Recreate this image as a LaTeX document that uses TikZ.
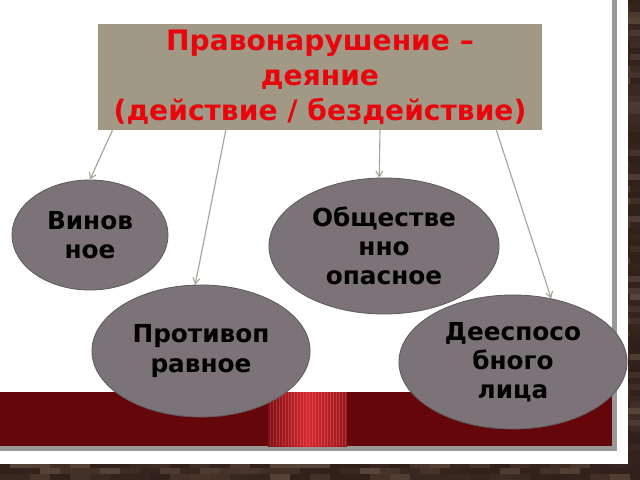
\documentclass[tikz,border=0pt]{standalone}
\usepackage{fontspec}
\setmainfont{DejaVu Sans}
\usetikzlibrary{shapes, arrows.meta}
\definecolor{boxkhaki}{RGB}{161,153,134}
\definecolor{titlered}{RGB}{232,6,12}
\definecolor{ovalgray}{RGB}{123,115,119}
\definecolor{ovaledge}{RGB}{96,90,94}
\definecolor{linkgray}{RGB}{168,163,148}
\definecolor{bandred}{RGB}{100,6,10}
\definecolor{stripered}{RGB}{216,40,46}
\definecolor{brickbrown}{RGB}{48,32,26}
\definecolor{bricktan}{RGB}{140,116,96}
\definecolor{shadowgray}{RGB}{152,152,152}

\begin{document}
\begin{tikzpicture}[x=0.025cm, y=-0.025cm,
  oval/.style={ellipse, draw=ovaledge, line width=0.6pt, fill=ovalgray, inner sep=0pt,
    align=center, font=\fontsize{17.6}{20.8}\selectfont\bfseries},
  link/.style={draw=linkgray, line width=0.8pt, -{Straight Barb[length=4pt, width=5pt]}}]
  \useasboundingbox (0,0) rectangle (640,480);

  % Brick wall behind the slide
  \fill[brickbrown] (0,0) rectangle (640,480);
  \pgfmathsetseed{11}
  \foreach \r in {0,...,79} {
    \foreach \c in {0,...,32} {
      \pgfmathsetmacro{\bx}{20*\c - mod(\r,2)*10}
      \pgfmathsetmacro{\by}{6*\r}
      \pgfmathsetmacro{\tone}{45*rnd^2}
      \fill[bricktan!\tone!brickbrown] (\bx, \by) rectangle (\bx+20, \by+6);
    }
  }

  % Slide with shadow edge
  \fill[white] (0,0) rectangle (628,464);
  \fill[shadowgray] (0,0) rectangle (617,451);
  \fill[white] (0,0) rectangle (612,446);

  % Dark red band with bright stripe
  \fill[bandred] (0,392) rectangle (612,446);
  \shade[left color=bandred!75!stripered, right color=bandred!55!stripered, middle color=stripered]
    (268,392) rectangle (347,446);
  \foreach \x in {270,273,...,346} {
    \draw[white, opacity=0.15, line width=0.3pt] (\x,392) -- (\x,446);
  }

  % Title box
  \node[fill=boxkhaki, text=titlered, align=center, inner sep=0pt,
    minimum width=11.1cm, minimum height=2.65cm,
    font=\fontsize{20}{24.9}\selectfont\bfseries] (title) at (320,77)
    {Правонарушение –\\деяние\\(действие / бездействие)};

  % Features
  \node[oval, minimum width=3.9cm, minimum height=2.75cm] (vinov) at (90,235) {Винов\\ное};
  \node[oval, minimum width=5.45cm, minimum height=3.3cm] (protiv) at (201,351) {Противоп\\равное};
  \node[oval, minimum width=5.75cm, minimum height=3.4cm] (obshch) at (384,246) {Обществе\\нно\\опасное};
  \node[oval, minimum width=5.7cm, minimum height=3.35cm] (deesp) at (513,362) {Дееспосо\\бного\\лица};

  % Connectors
  \coordinate (t1) at (113,129);
  \coordinate (t2) at (226,129);
  \coordinate (t3) at (380,129);
  \coordinate (t4) at (496,129);
  \draw[link] (t1) -- (vinov.north);
  \draw[link] (t2) -- (protiv.95);
  \draw[link] (t3) -- (obshch.94);
  \draw[link] (t4) -- (deesp.59);
\end{tikzpicture}
\end{document}
